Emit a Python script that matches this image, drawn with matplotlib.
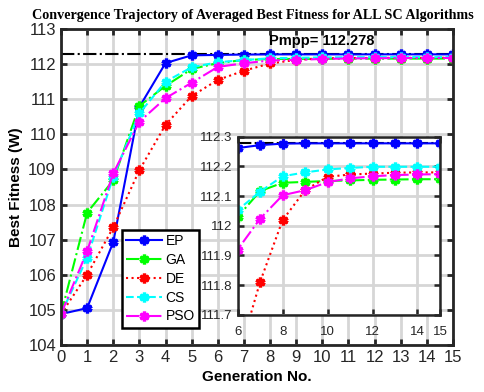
import numpy as np
import matplotlib
matplotlib.use("Agg")
import matplotlib.pyplot as plt

plt.rcParams['font.family'] = ['Liberation Sans', 'DejaVu Sans']

# Data
gens = np.arange(0, 16)
ep = [104.88, 105.05, 106.93, 110.78, 112.03, 112.25, 112.262, 112.272, 112.277,
      112.278, 112.278, 112.278, 112.278, 112.278, 112.278, 112.278]
ga = [104.88, 107.77, 108.69, 110.81, 111.38, 111.86, 112.030, 112.117, 112.145,
      112.148, 112.151, 112.153, 112.155, 112.156, 112.157, 112.157]
de = [104.88, 106.00, 107.35, 108.98, 110.27, 111.09, 111.55, 111.811, 112.019,
      112.120, 112.165, 112.173, 112.176, 112.179, 112.180, 112.180]
cs = [104.88, 106.48, 108.79, 110.60, 111.50, 111.91, 112.053, 112.115, 112.167,
      112.180, 112.190, 112.195, 112.199, 112.199, 112.199, 112.199]
pso = [104.88, 106.67, 108.89, 110.36, 111.03, 111.47, 111.920, 112.024, 112.103,
       112.120, 112.147, 112.160, 112.167, 112.171, 112.173, 112.174]
pmpp = 112.278

names = ['EP', 'GA', 'DE', 'CS', 'PSO']
series = [ep, ga, de, cs, pso]
colors = ['#0000ff', '#00ff00', '#ff0000', '#00ffff', '#ff00ff']
styles = ['-', '-.', ':', '--', '-.']

mk = dict(marker=(6, 2, 0), markersize=7, markeredgewidth=2.4)


def style_axes(ax, lw=2.0):
    for s in ax.spines.values():
        s.set_linewidth(lw)
        s.set_color('#262626')
    ax.tick_params(direction='in', top=True, right=True, width=lw, length=4,
                   colors='#262626', labelcolor='#262626')
    ax.grid(True, color='#d6d6d6', linewidth=2)
    ax.set_axisbelow(True)


fig = plt.figure(figsize=(4.84, 3.92), dpi=100)
ax = fig.add_axes([0.126, 0.120, 0.810, 0.806])

for y, n, c, ls in zip(series, names, colors, styles):
    ax.plot(gens, y, linestyle=ls, color=c, linewidth=1.5, label=n, **mk)
ax.axhline(pmpp, color='black', linestyle='-.', linewidth=1.5, zorder=1)
ax.text(7.96, 112.65, 'Pmpp= 112.278', fontsize=10.5, fontweight='bold',
        va='center', ha='left')

ax.set_xlim(0, 15)
ax.set_ylim(104, 113)
ax.set_xticks(range(0, 16))
ax.set_yticks(range(104, 114))
ax.tick_params(labelsize=12)
style_axes(ax)
ax.set_xlabel('Generation No.', fontsize=11, fontweight='bold')
ax.set_ylabel('Best Fitness (W)', fontsize=11, fontweight='bold')
ax.set_title('Convergence Trajectory of Averaged Best Fitness for ALL SC Algorithms',
             fontsize=10.2, fontweight='bold', family='Liberation Serif', pad=7,
             x=0.49)

leg = ax.legend(loc='lower left', bbox_to_anchor=(0.155, 0.055), fontsize=10,
                fancybox=False, edgecolor='black', framealpha=1,
                handlelength=2.6, borderpad=0.3, labelspacing=0.35,
                handletextpad=0.25, borderaxespad=0)
leg.get_frame().set_linewidth(1.8)

# Inset zoom
ins = fig.add_axes([0.491, 0.197, 0.418, 0.454])
for y, c, ls in zip(series, colors, styles):
    ins.plot(gens, y, linestyle=ls, color=c, linewidth=1.5, **mk)
ins.axhline(pmpp, color='black', linestyle='-.', linewidth=1.5, zorder=1)
ins.set_xlim(6, 15)
ins.set_ylim(111.7, 112.3)
ins.set_xticks([6, 8, 10, 12, 14, 15])
ins.set_yticks(np.round(np.arange(111.7, 112.31, 0.1), 1))
ins.set_yticklabels(['111.7', '111.8', '111.9', '112', '112.1', '112.2', '112.3'])
ins.tick_params(labelsize=9.5)
style_axes(ins, lw=1.8)
ins.tick_params(pad=8, axis='x')

fig.savefig('out.png', dpi=100)
